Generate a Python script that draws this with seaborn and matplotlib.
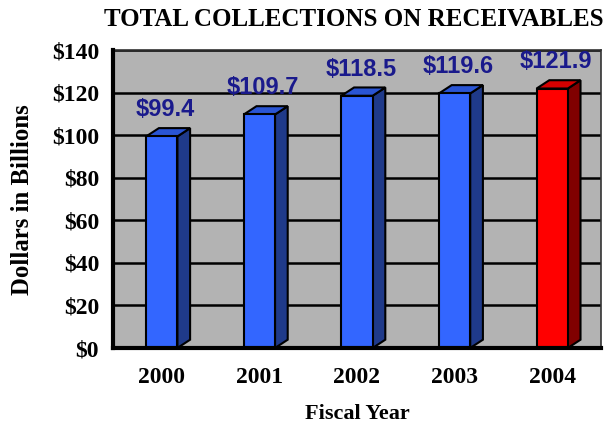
import matplotlib
matplotlib.use("Agg")
import matplotlib.pyplot as plt
from matplotlib.patches import Polygon
import seaborn as sns

# Data
years = ["2000", "2001", "2002", "2003", "2004"]
collections = [99.4, 109.7, 118.5, 119.6, 121.9]
period = ["past", "past", "past", "past", "current"]
y_ticks = [0, 20, 40, 60, 80, 100, 120, 140]

sns.set_style("white")
plt.rcParams["font.family"] = ["Liberation Serif", "DejaVu Serif"]
plt.rcParams["font.weight"] = "bold"
plt.rcParams["text.color"] = "black"
plt.rcParams["xtick.color"] = "black"
plt.rcParams["ytick.color"] = "black"

front = {"past": "#3366ff", "current": "#ff0000"}
side = {"#3366ff": "#1f3a8a", "#ff0000": "#800000"}
top = {"#3366ff": "#2a55d4", "#ff0000": "#d40000"}

fig = plt.figure(figsize=(6.05, 4.23), dpi=100)
ax = fig.add_axes([113 / 605, 1 - 348 / 423, (601 - 113) / 605, (348 - 50) / 423])
ax.set_facecolor("#b3b3b3")

sns.barplot(x=years, y=collections, hue=period, palette=front, width=0.32,
            dodge=False, legend=False, edgecolor="black", linewidth=1.5,
            saturation=1, ax=ax, zorder=3)

# fake 3D: side and top faces
dx, dy = 0.13, 3.9
for p in list(ax.patches):
    x0, w, h = p.get_x(), p.get_width(), p.get_height()
    x1 = x0 + w
    c = matplotlib.colors.to_hex(p.get_facecolor())
    ax.add_patch(Polygon([(x1, 0), (x1 + dx, dy), (x1 + dx, h + dy), (x1, h)],
                         closed=True, fc=side.get(c, "#1f3a8a"), ec="black", lw=1.5, zorder=2.9))
    ax.add_patch(Polygon([(x0, h), (x0 + dx, h + dy), (x1 + dx, h + dy), (x1, h)],
                         closed=True, fc=top.get(c, "#2a55d4"), ec="black", lw=1.5, zorder=2.9))

for i, v in enumerate(collections):
    ax.text(i + 0.04, v + 12.5, f"${v}", ha="center", va="center", color="#1a1a8c",
            fontsize=17, fontweight="bold", family=["Liberation Sans", "DejaVu Sans"])

ax.set_xlim(-0.5, 4.5)
ax.set_ylim(0, 140)
ax.set_yticks(y_ticks)
ax.set_yticklabels([f"${t}" for t in y_ticks])
ax.set_xticks(range(len(years)))
ax.set_xticks([i - 0.5 for i in range(len(years) + 1)], minor=True)
ax.tick_params(axis="x", which="major", length=0, pad=14, labelsize=17)
ax.tick_params(axis="x", which="minor", length=6, width=2, direction="out", color="black")
ax.tick_params(axis="y", length=6, width=2, direction="out", color="black", labelsize=17, pad=4)
ax.set_xlabel("")
ax.set_ylabel("")
ax.yaxis.grid(True, color="black", lw=1.8)
ax.set_axisbelow(True)

for s in ["left", "bottom"]:
    ax.spines[s].set_linewidth(3)
    ax.spines[s].set_color("black")
    ax.spines[s].set_zorder(5)
for s in ["top", "right"]:
    ax.spines[s].set_linewidth(1.2)
    ax.spines[s].set_color("#333333")

fig.text(354 / 605, 1 - 20 / 423, "TOTAL COLLECTIONS ON RECEIVABLES", ha="center", va="center",
         fontsize=18, fontweight="bold")
fig.text(23 / 605, 1 - 200 / 423, "Dollars in Billions", rotation=90, ha="center", va="center",
         fontsize=17.8, fontweight="bold")
fig.text(357 / 605, 1 - 414 / 423, "Fiscal Year", ha="center", va="center",
         fontsize=16, fontweight="bold")

fig.savefig("out.png", dpi=100)
